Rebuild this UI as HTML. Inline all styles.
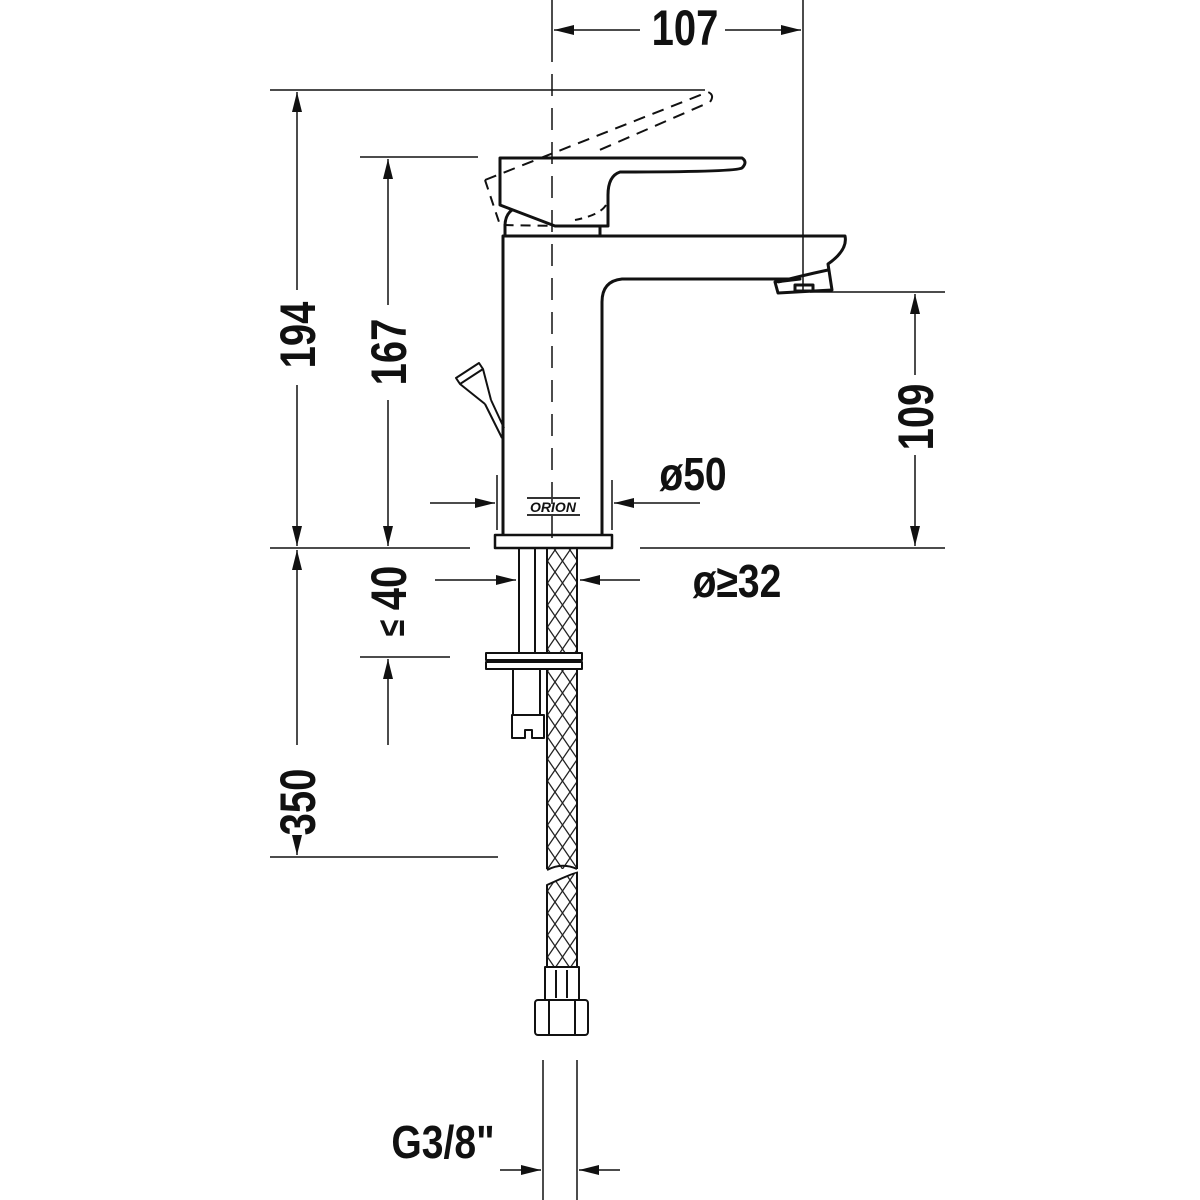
<!DOCTYPE html>
<html><head><meta charset="utf-8"><style>html,body{margin:0;padding:0;background:#fff}svg{display:block}
text{font-family:"Liberation Sans Narrow","Liberation Sans",sans-serif;font-weight:bold;fill:#111}</style></head>
<body>
<svg width="1200" height="1200" viewBox="0 0 1200 1200" xmlns="http://www.w3.org/2000/svg">
<defs>
<pattern id="hatch" width="15" height="22" patternUnits="userSpaceOnUse">
<path d="M0,0 L15,22 M15,0 L0,22" stroke="#222" stroke-width="1.3"/>
</pattern>
<marker id="a" viewBox="0 0 20 10" refX="20" refY="5" markerWidth="20" markerHeight="10" markerUnits="userSpaceOnUse" orient="auto">
<path d="M0,0 L20,5 L0,10 Z" fill="#111"/></marker>
</defs>
<g stroke="#111" stroke-width="1.5" fill="none">
<line x1="552" y1="0" x2="552" y2="40"/>
<line x1="552" y1="40" x2="552" y2="545" stroke-dasharray="22,12"/>
<line x1="803" y1="0" x2="803" y2="292"/>
<line x1="640" y1="30" x2="554" y2="30" marker-end="url(#a)"/>
<line x1="725" y1="30" x2="801" y2="30" marker-end="url(#a)"/>
<line x1="270" y1="90" x2="705" y2="90"/>
<line x1="360" y1="157" x2="478" y2="157"/>
<line x1="810" y1="292" x2="945" y2="292"/>
<line x1="270" y1="548" x2="470" y2="548"/>
<line x1="640" y1="548" x2="945" y2="548"/>
<line x1="270" y1="857" x2="498" y2="857"/>
<line x1="360" y1="657" x2="450" y2="657"/>
<line x1="297" y1="290" x2="297" y2="92" marker-end="url(#a)"/>
<line x1="297" y1="385" x2="297" y2="546" marker-end="url(#a)"/>
<line x1="388" y1="305" x2="388" y2="159" marker-end="url(#a)"/>
<line x1="388" y1="400" x2="388" y2="546" marker-end="url(#a)"/>
<line x1="915" y1="375" x2="915" y2="294" marker-end="url(#a)"/>
<line x1="915" y1="455" x2="915" y2="546" marker-end="url(#a)"/>
<line x1="297" y1="745" x2="297" y2="550" marker-end="url(#a)"/>
<line x1="297" y1="845" x2="297" y2="855" marker-end="url(#a)"/>
<line x1="388" y1="745" x2="388" y2="659" marker-end="url(#a)"/>
<line x1="497" y1="475" x2="497" y2="530"/>
<line x1="612" y1="480" x2="612" y2="530"/>
<line x1="430" y1="503" x2="495" y2="503" marker-end="url(#a)"/>
<line x1="700" y1="503" x2="614" y2="503" marker-end="url(#a)"/>
<line x1="435" y1="580" x2="516" y2="580" marker-end="url(#a)"/>
<line x1="640" y1="580" x2="580" y2="580" marker-end="url(#a)"/>
<line x1="543" y1="1060" x2="543" y2="1200"/>
<line x1="577" y1="1060" x2="577" y2="1200"/>
<line x1="500" y1="1170" x2="541" y2="1170" marker-end="url(#a)"/>
<line x1="620" y1="1170" x2="579" y2="1170" marker-end="url(#a)"/>
</g>
<g stroke="#111" stroke-width="3" fill="none" stroke-linejoin="round">
<path d="M485,180 L708,92 Q715,95 710,102 L595,152" stroke-dasharray="12,8" stroke-width="2"/>
<path d="M485,180 L500,225 L560,226" stroke-dasharray="10,7" stroke-width="2"/>
<path d="M606,205 Q600,215 575,220" stroke-dasharray="8,6" stroke-width="2"/>
<path d="M500,158 L742,158 Q748,162 742,168 Q735,172 620,172 Q608,176 608,195 L608,226 L555,226 L500,205 Z"/>
<path d="M505,236 L505,226 Q505,215 512,210"/>
<line x1="600" y1="226" x2="600" y2="236"/>
<path d="M503,535 L503,236 L845,236 Q848,250 828,264 L832,290 L778,293 L775,282 L800,279 L622,279 Q602,281 602,302 L602,535"/>
<path d="M778,282 Q800,276 828,270"/>
<rect x="795" y="285" width="18" height="6"/>
<rect x="495" y="535" width="117" height="13" stroke-width="2.5"/>
<g stroke-width="2">
<path d="M456,378 L479,363 L483,369 L460,384 Z"/>
<path d="M460,384 L485,404 M483,369 L491,400"/>
<path d="M485,404 L502,438 M491,400 L504,428"/>
</g>
<g stroke-width="2">
<line x1="519" y1="548" x2="519" y2="653"/>
<line x1="535" y1="548" x2="535" y2="653"/>
<rect x="547" y="548" width="30" height="322" fill="url(#hatch)"/>
<rect x="486" y="653" width="96" height="7" fill="#fff"/>
<rect x="486" y="662" width="96" height="7" fill="#fff"/>
<rect x="513" y="669" width="27" height="46"/>
<path d="M512,715 L544,715 L544,738 L532,738 L532,730 L525,730 L525,738 L512,738 Z"/>
<path d="M547,885 L547,967 L577,967 L577,872 Q562,878 547,885 Z" fill="url(#hatch)"/>
<path d="M545,967 L579,967 L579,1000 L545,1000 Z"/>
<line x1="556" y1="970" x2="556" y2="998"/><line x1="567" y1="970" x2="567" y2="998"/>
<rect x="535" y="1000" width="53" height="35" rx="3"/>
<line x1="549" y1="1000" x2="549" y2="1035"/><line x1="575" y1="1000" x2="575" y2="1035"/>
</g>
</g>
<path d="M546,869 L579,869 L579,871 Q562,876 546,883 Z" fill="#fff"/>
<path d="M547,870 Q562,862 577,869" stroke="#111" stroke-width="2" fill="none"/>
<line x1="527" y1="498" x2="580" y2="498" stroke="#333" stroke-width="2"/>
<line x1="527" y1="515" x2="580" y2="515" stroke="#333" stroke-width="2"/>
<text x="553" y="512" font-size="14" font-style="italic" text-anchor="middle" fill="#333">ORION</text>
<g font-size="50">
<text transform="translate(685,45) scale(0.8,1)" text-anchor="middle">107</text>
<text transform="translate(315,335) rotate(-90) scale(0.8,1)" text-anchor="middle">194</text>
<text transform="translate(406,352) rotate(-90) scale(0.8,1)" text-anchor="middle">167</text>
<text transform="translate(933,417) rotate(-90) scale(0.8,1)" text-anchor="middle">109</text>
<text transform="translate(315,802) rotate(-90) scale(0.8,1)" text-anchor="middle">350</text>
<text transform="translate(406,588) rotate(-90) scale(0.8,1)" text-anchor="middle">40</text>
</g>
<text transform="translate(404,628) rotate(-90) scale(0.8,1)" font-size="38" text-anchor="middle">≤</text>
<text transform="translate(693,490) scale(0.85,1)" font-size="46" text-anchor="middle">ø50</text>
<text transform="translate(737,597) scale(0.85,1)" font-size="46" text-anchor="middle">ø≥32</text>
<text transform="translate(443,1158) scale(0.85,1)" font-size="46" text-anchor="middle">G3/8"</text>
</svg>
</body></html>
